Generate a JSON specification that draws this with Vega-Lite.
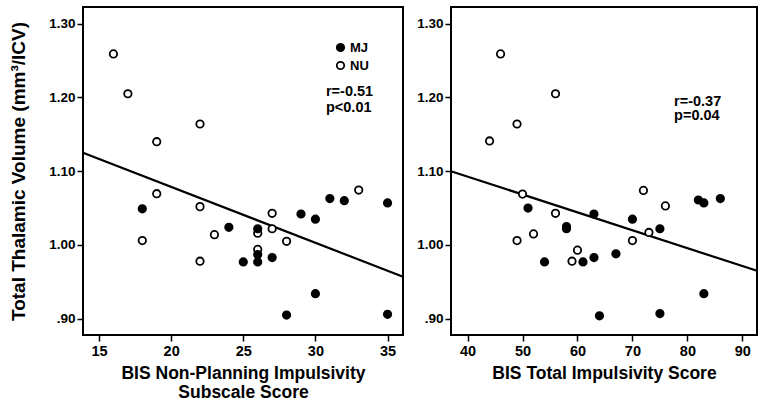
{
  "$schema": "https://vega.github.io/schema/vega-lite/v6.json",
  "padding": {"left": 8, "top": 6, "right": 4, "bottom": 0},
  "spacing": 6,
  "background": "white",
  "config": {
    "view": {"stroke": "black", "strokeWidth": 2},
    "axis": {
      "labelFont": "Liberation Sans", "labelFontWeight": "bold", "labelColor": "black",
      "tickColor": "black", "tickSize": 6, "tickWidth": 1.5, "domain": false, "grid": false,
      "titleFontWeight": "bold", "titleColor": "black", "labelFlush": false, "labelOverlap": false
    },
    "axisX": {"labelFont": "Liberation Sans", "labelFontSize": 14.5, "labelPadding": 3,
      "titleFont": "Liberation Sans", "titleFontSize": 17.5, "titlePadding": 7, "titleLineHeight": 19},
    "axisY": {"labelFontSize": 13.5, "labelPadding": 2, "titleFont": "Liberation Sans", "titleFontSize": 19, "titlePadding": 20}
  },
  "datasets": {
    "left": [
      {"np": 16, "vol": 1.259, "group": "NU"}, {"np": 17, "vol": 1.205, "group": "NU"},
      {"np": 19, "vol": 1.140, "group": "NU"}, {"np": 22, "vol": 1.164, "group": "NU"},
      {"np": 19, "vol": 1.0695, "group": "NU"}, {"np": 18, "vol": 1.006, "group": "NU"},
      {"np": 22, "vol": 1.052, "group": "NU"}, {"np": 23, "vol": 1.014, "group": "NU"},
      {"np": 22, "vol": 0.978, "group": "NU"}, {"np": 26, "vol": 1.016, "group": "NU"},
      {"np": 26, "vol": 0.994, "group": "NU"}, {"np": 27, "vol": 1.043, "group": "NU"},
      {"np": 27, "vol": 1.022, "group": "NU"}, {"np": 28, "vol": 1.005, "group": "NU"},
      {"np": 33, "vol": 1.0745, "group": "NU"},
      {"np": 18, "vol": 1.049, "group": "MJ"}, {"np": 24, "vol": 1.024, "group": "MJ"},
      {"np": 26, "vol": 1.022, "group": "MJ"}, {"np": 25, "vol": 0.977, "group": "MJ"},
      {"np": 26, "vol": 0.987, "group": "MJ"}, {"np": 26, "vol": 0.977, "group": "MJ"},
      {"np": 27, "vol": 0.983, "group": "MJ"}, {"np": 28, "vol": 0.905, "group": "MJ"},
      {"np": 29, "vol": 1.042, "group": "MJ"}, {"np": 30, "vol": 1.035, "group": "MJ"},
      {"np": 30, "vol": 0.934, "group": "MJ"}, {"np": 31, "vol": 1.063, "group": "MJ"},
      {"np": 32, "vol": 1.060, "group": "MJ"}, {"np": 35, "vol": 1.057, "group": "MJ"},
      {"np": 35, "vol": 0.906, "group": "MJ"}
    ],
    "leftFit": [{"np": 13.89, "vol": 1.125}, {"np": 36.07, "vol": 0.957}],
    "right": [
      {"total": 46, "vol": 1.259, "group": "NU"}, {"total": 56, "vol": 1.205, "group": "NU"},
      {"total": 49, "vol": 1.164, "group": "NU"}, {"total": 44, "vol": 1.141, "group": "NU"},
      {"total": 50, "vol": 1.069, "group": "NU"}, {"total": 49, "vol": 1.006, "group": "NU"},
      {"total": 52, "vol": 1.015, "group": "NU"}, {"total": 56, "vol": 1.043, "group": "NU"},
      {"total": 60, "vol": 0.993, "group": "NU"}, {"total": 59, "vol": 0.978, "group": "NU"},
      {"total": 70, "vol": 1.006, "group": "NU"}, {"total": 72, "vol": 1.074, "group": "NU"},
      {"total": 73, "vol": 1.017, "group": "NU"}, {"total": 76, "vol": 1.053, "group": "NU"},
      {"total": 51, "vol": 1.050, "group": "MJ"}, {"total": 54, "vol": 0.977, "group": "MJ"},
      {"total": 58, "vol": 1.025, "group": "MJ"}, {"total": 58, "vol": 1.022, "group": "MJ"},
      {"total": 61, "vol": 0.977, "group": "MJ"}, {"total": 63, "vol": 1.042, "group": "MJ"},
      {"total": 63, "vol": 0.983, "group": "MJ"}, {"total": 64, "vol": 0.904, "group": "MJ"},
      {"total": 67, "vol": 0.988, "group": "MJ"}, {"total": 70, "vol": 1.035, "group": "MJ"},
      {"total": 75, "vol": 1.022, "group": "MJ"}, {"total": 75, "vol": 0.907, "group": "MJ"},
      {"total": 82, "vol": 1.061, "group": "MJ"}, {"total": 83, "vol": 1.057, "group": "MJ"},
      {"total": 83, "vol": 0.934, "group": "MJ"}, {"total": 86, "vol": 1.063, "group": "MJ"}
    ],
    "rightFit": [{"total": 36.98, "vol": 1.10}, {"total": 92.67, "vol": 0.965}]
  },
  "hconcat": [
    {
      "width": 320,
      "height": 328,
      "layer": [
        {
          "data": {"name": "leftFit"},
          "mark": {"type": "line", "color": "black", "strokeWidth": 2.2},
          "encoding": {
            "x": {"field": "np", "type": "quantitative",
              "scale": {"domain": [13.89, 36.07], "nice": false, "zero": false},
              "axis": {"values": [15, 20, 25, 30, 35], "title": ["BIS Non-Planning Impulsivity", "Subscale Score"]}},
            "y": {"field": "vol", "type": "quantitative",
              "scale": {"domain": [0.878, 1.3226], "nice": false, "zero": false},
              "axis": {"values": [0.9, 1.0, 1.1, 1.2, 1.3], "title": "Total Thalamic Volume (mm³/ICV)",
                "labelExpr": "datum.value < 1 ? substring(format(datum.value, '.2f'), 1) : format(datum.value, '.2f')"}}
          }
        },
        {
          "data": {"name": "left"},
          "mark": {"type": "point", "shape": "circle", "filled": true, "stroke": "black", "strokeWidth": 1.8, "size": 55, "opacity": 1},
          "encoding": {
            "x": {"field": "np", "type": "quantitative"},
            "y": {"field": "vol", "type": "quantitative"},
            "fill": {"field": "group", "type": "nominal",
              "scale": {"domain": ["MJ", "NU"], "range": ["black", "white"]},
              "legend": {"orient": "none", "legendX": 251, "legendY": 34, "title": null, "padding": 0,
                "labelFont": "Liberation Sans", "labelFontWeight": "bold", "labelFontSize": 13, "labelColor": "black",
                "labelOffset": 3, "rowPadding": 3, "symbolType": "circle", "symbolSize": 55,
                "symbolStrokeColor": "black", "symbolStrokeWidth": 1.8, "symbolOpacity": 1}}
          }
        },
        {
          "data": {"values": [{"t": 1}]},
          "mark": {"type": "text", "align": "left", "baseline": "alphabetic", "font": "Liberation Sans", "fontWeight": "bold", "fontSize": 14.5, "lineHeight": 16.5, "color": "black"},
          "encoding": {
            "x": {"datum": 30.73, "type": "quantitative"},
            "y": {"datum": 1.202, "type": "quantitative"},
            "text": {"value": ["r=-0.51", "p<0.01"]}
          }
        }
      ]
    },
    {
      "width": 306,
      "height": 328,
      "layer": [
        {
          "data": {"name": "rightFit"},
          "mark": {"type": "line", "color": "black", "strokeWidth": 2.2},
          "encoding": {
            "x": {"field": "total", "type": "quantitative",
              "scale": {"domain": [36.98, 92.67], "nice": false, "zero": false},
              "axis": {"values": [40, 50, 60, 70, 80, 90], "title": "BIS Total Impulsivity Score"}},
            "y": {"field": "vol", "type": "quantitative",
              "scale": {"domain": [0.878, 1.3226], "nice": false, "zero": false},
              "axis": {"values": [0.9, 1.0, 1.1, 1.2, 1.3], "title": null,
                "labelExpr": "datum.value < 1 ? substring(format(datum.value, '.2f'), 1) : format(datum.value, '.2f')"}}
          }
        },
        {
          "data": {"name": "right"},
          "mark": {"type": "point", "shape": "circle", "filled": true, "stroke": "black", "strokeWidth": 1.8, "size": 55, "opacity": 1},
          "encoding": {
            "x": {"field": "total", "type": "quantitative"},
            "y": {"field": "vol", "type": "quantitative"},
            "fill": {"field": "group", "type": "nominal",
              "scale": {"domain": ["MJ", "NU"], "range": ["black", "white"]}, "legend": null}
          }
        },
        {
          "data": {"values": [{"t": 1}]},
          "mark": {"type": "text", "align": "left", "baseline": "alphabetic", "font": "Liberation Sans", "fontWeight": "bold", "fontSize": 14.5, "lineHeight": 14.5, "color": "black"},
          "encoding": {
            "x": {"datum": 77.58, "type": "quantitative"},
            "y": {"datum": 1.189, "type": "quantitative"},
            "text": {"value": ["r=-0.37", "p=0.04"]}
          }
        }
      ]
    }
  ],
  "resolve": {"scale": {"x": "independent", "y": "independent", "fill": "independent"}, "legend": {"fill": "independent"}}
}
